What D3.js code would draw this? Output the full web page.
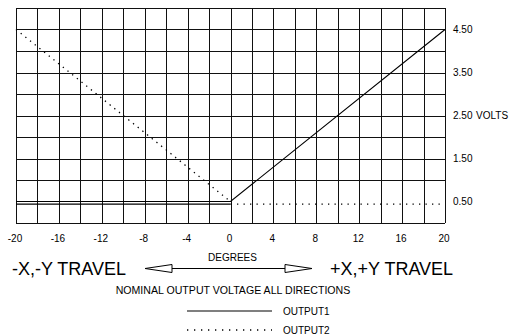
<!DOCTYPE html>
<html>
<head>
<meta charset="utf-8">
<script src="https://cdn.jsdelivr.net/npm/d3@7"></script>
<style>
  body { margin: 0; background: #fff; }
  text { font-family: "Liberation Sans", Arial, sans-serif; fill: #000; }
</style>
</head>
<body>
<div id="chart"></div>
<script>
// values
var xTicks = [-20, -16, -12, -8, -4, 0, 4, 8, 12, 16, 20]
var xGrid = [-20, -18, -16, -14, -12, -10, -8, -6, -4, -2, 0, 2, 4, 6, 8, 10, 12, 14, 16, 18, 20]
var yTicks = [0.5, 1.5, 2.5, 3.5, 4.5]
var yGrid = [0, 1, 1.5, 2, 2.5, 3, 3.5, 4, 4.5, 5]   // no full-width line at 0.50
var output1 = [[-20, 0.5], [0, 0.5], [20, 4.5]]
var output1Floor = [[-20, 0.44], [0, 0.44]]
var output2 = [[-20, 4.5], [0, 0.5]]
var output2Floor = [[0, 0.44], [20, 0.44]]

var width = 518, height = 335
var margin = {left: 16, top: 8, right: 73, bottom: 112}

var svg = d3.select("#chart").append("svg")
    .attr("width", width)
    .attr("height", height)

var x = d3.scaleLinear().domain([-20, 20]).range([margin.left, width - margin.right])
var y = d3.scaleLinear().domain([0, 5]).range([height - margin.bottom, margin.top])

var grid = svg.append("g").attr("shape-rendering", "crispEdges")
    .attr("stroke", "#111").attr("stroke-width", 1)

grid.selectAll(".vx").data(xGrid).enter().append("line")
    .attr("x1", function(d){ return Math.round(x(d)) + 0.5 })
    .attr("x2", function(d){ return Math.round(x(d)) + 0.5 })
    .attr("y1", y(5)).attr("y2", y(0))

grid.selectAll(".hy").data(yGrid).enter().append("line")
    .attr("y1", function(d){ return Math.round(y(d)) + 0.5 })
    .attr("y2", function(d){ return Math.round(y(d)) + 0.5 })
    .attr("x1", x(-20)).attr("x2", x(20))

var line = d3.line()
    .x(function(d){ return x(d[0]) })
    .y(function(d){ return y(d[1]) })

svg.append("path").datum(output1).attr("d", line)
    .attr("fill", "none").attr("stroke", "#000").attr("stroke-width", 1.1)
svg.append("path").datum(output1Floor).attr("d", line)
    .attr("fill", "none").attr("stroke", "#000").attr("stroke-width", 1.1)

svg.append("path").datum(output2).attr("d", line)
    .attr("fill", "none").attr("stroke", "#000").attr("stroke-width", 1.3)
    .attr("stroke-dasharray", "1.3,4.7")
svg.append("path").datum(output2Floor).attr("d", line)
    .attr("fill", "none").attr("stroke", "#000").attr("stroke-width", 1.3)
    .attr("stroke-dasharray", "1.3,5.2")

// x tick labels
svg.selectAll(".xt").data(xTicks).enter().append("text")
    .attr("x", function(d){ return x(d) - 1 })
    .attr("y", y(0) + 19)
    .attr("text-anchor", "middle")
    .attr("font-size", "10px")
    .text(function(d){ return d })

// y tick labels
svg.selectAll(".yt").data(yTicks).enter().append("text")
    .attr("x", x(20) + 8)
    .attr("y", function(d){ return y(d) + 3.5 })
    .attr("font-size", "10px")
    .text(function(d){ return d3.format(".2f")(d) })

svg.append("text").attr("x", x(20) + 31).attr("y", y(2.5) + 3.5)
    .attr("font-size", "10px").text("VOLTS")

svg.append("text").attr("x", x(0) + 2).attr("y", 261)
    .attr("text-anchor", "middle").attr("font-size", "10px").text("DEGREES")

svg.append("text").attr("x", 12).attr("y", 275)
    .attr("font-size", "18px").text("-X,-Y TRAVEL")
svg.append("text").attr("x", 330).attr("y", 275)
    .attr("font-size", "18px").text("+X,+Y TRAVEL")

// double arrow
var ay = 268.5
svg.append("line").attr("x1", 172).attr("x2", 285).attr("y1", ay).attr("y2", ay)
    .attr("stroke", "#000").attr("stroke-width", 1)
svg.append("path").attr("d", "M145," + ay + "L172," + (ay - 4) + "L172," + (ay + 4) + "Z")
    .attr("fill", "#fff").attr("stroke", "#000").attr("stroke-width", 1)
svg.append("path").attr("d", "M312," + ay + "L285," + (ay - 4) + "L285," + (ay + 4) + "Z")
    .attr("fill", "#fff").attr("stroke", "#000").attr("stroke-width", 1)

svg.append("text").attr("x", 233).attr("y", 294)
    .attr("text-anchor", "middle").attr("font-size", "10.6px")
    .text("NOMINAL OUTPUT VOLTAGE ALL DIRECTIONS")

// legend
svg.append("line").attr("x1", 187).attr("x2", 272).attr("y1", 311).attr("y2", 311)
    .attr("stroke", "#000").attr("stroke-width", 1.1)
svg.append("text").attr("x", 283).attr("y", 315).attr("font-size", "10px").text("OUTPUT1")
svg.append("line").attr("x1", 187).attr("x2", 272).attr("y1", 330).attr("y2", 330)
    .attr("stroke", "#000").attr("stroke-width", 1.3).attr("stroke-dasharray", "1.3,5.7")
svg.append("text").attr("x", 283).attr("y", 334).attr("font-size", "10px").text("OUTPUT2")
</script>
</body>
</html>
